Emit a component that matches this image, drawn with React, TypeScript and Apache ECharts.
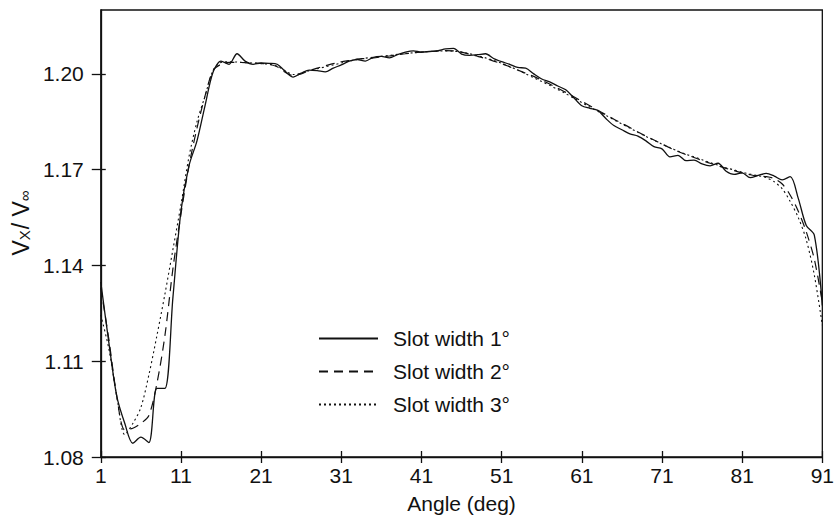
import React, { useEffect, useRef } from "react";
import * as echarts from "echarts";

const angles: number[] = Array.from({ length: 91 }, (_, i) => i + 1);

const slot1: number[] = [
  1.1348, 1.116, 1.099, 1.0905, 1.0843, 1.0862, 1.0845, 1.1015, 1.1015, 1.13,
  1.157, 1.1712, 1.179, 1.19, 1.2005, 1.204, 1.203, 1.2063, 1.204, 1.203,
  1.2034, 1.2033, 1.203, 1.2008, 1.199, 1.2002, 1.2012, 1.201, 1.2006, 1.2018,
  1.2028, 1.204, 1.2045, 1.204, 1.2052, 1.2055, 1.205, 1.206, 1.2068, 1.2072,
  1.2068, 1.207, 1.2072, 1.2078, 1.208, 1.2062, 1.2058, 1.206, 1.2063, 1.2048,
  1.2038, 1.203, 1.202, 1.2018, 1.2, 1.1984, 1.1975, 1.1962, 1.195, 1.1925,
  1.19, 1.1892, 1.1885, 1.186, 1.1838, 1.1825, 1.1812, 1.1805, 1.179, 1.1772,
  1.1765, 1.174, 1.1745, 1.1728, 1.173, 1.1718, 1.1712, 1.172, 1.1695, 1.1685,
  1.169, 1.1675, 1.1682, 1.1688, 1.168, 1.1668, 1.1678, 1.161, 1.1525, 1.1495,
  1.1275,
];

const slot2: number[] = [
  1.133, 1.117, 1.099, 1.0885, 1.089, 1.0905, 1.093, 1.103, 1.118, 1.139,
  1.156, 1.1712, 1.183, 1.193, 1.201, 1.203, 1.2036, 1.2036, 1.2035, 1.2034,
  1.2033, 1.203, 1.2022, 1.2005, 1.1995, 1.2, 1.201, 1.2018, 1.2025, 1.2032,
  1.2038, 1.2042, 1.2046, 1.2048, 1.205, 1.2053, 1.2056, 1.206, 1.2063, 1.2066,
  1.2068, 1.207, 1.2072, 1.2073, 1.2072, 1.2068, 1.2062, 1.2055, 1.2048, 1.204,
  1.2032, 1.2022, 1.2012, 1.2002, 1.1992, 1.198, 1.1968, 1.1955, 1.1942, 1.1928,
  1.1914, 1.19, 1.1886, 1.1872, 1.1858, 1.1845, 1.1832, 1.1818, 1.1805, 1.1793,
  1.178, 1.1768, 1.1757, 1.1747, 1.1738, 1.1729, 1.172, 1.1712, 1.1704, 1.1697,
  1.169, 1.1684, 1.168, 1.1678, 1.1672, 1.1655, 1.162, 1.157, 1.1505, 1.142,
  1.1285,
];

const slot3: number[] = [
  1.1245, 1.114, 1.099, 1.087, 1.0905, 1.0955, 1.1057, 1.118, 1.131, 1.145,
  1.159, 1.174, 1.185, 1.193, 1.201, 1.2036, 1.2038, 1.2037, 1.2035, 1.2034,
  1.2032, 1.203, 1.2024, 1.201, 1.1998, 1.2002, 1.201, 1.2016, 1.2022, 1.2028,
  1.2034, 1.204, 1.2045, 1.2049, 1.2052, 1.2055, 1.2058, 1.2061, 1.2064, 1.2066,
  1.2068, 1.207, 1.2071, 1.2072, 1.2071, 1.2068, 1.2063, 1.2057, 1.205, 1.2042,
  1.2033, 1.2023, 1.2012, 1.2, 1.1988, 1.1976, 1.1964, 1.1951, 1.1938, 1.1924,
  1.191, 1.1896, 1.1883, 1.187, 1.1856, 1.1843, 1.183, 1.1817, 1.1804, 1.1792,
  1.178, 1.1769, 1.1758, 1.1748, 1.174, 1.1731, 1.1722, 1.1714, 1.1706, 1.1699,
  1.1692, 1.1686, 1.1681, 1.1675, 1.1662, 1.164, 1.16, 1.155, 1.148, 1.137,
  1.1213,
];

const xTicks: number[] = [1, 11, 21, 31, 41, 51, 61, 71, 81, 91];
const yTicks: number[] = [1.08, 1.11, 1.14, 1.17, 1.2];
const seriesNames: string[] = ["Slot width 1°", "Slot width 2°", "Slot width 3°"];

const FONT = "'Liberation Sans', Arial, Helvetica, sans-serif";
const INK = "#111";

export default function App() {
  const ref = useRef<HTMLDivElement>(null);
  useEffect(() => {
    if (!ref.current) return;
    const chart = echarts.init(ref.current, undefined, { renderer: "svg" });
    const xBase = { type: "value", min: 1, max: 91 } as any;
    const yBase = { type: "value", min: 1.08, max: 1.22 } as any;
    const toPairs = (arr: number[]) => angles.map((a, i) => [a, arr[i]]);
    chart.setOption({
      animation: false,
      backgroundColor: "#fff",
      textStyle: { fontFamily: FONT, color: INK },
      grid: {
        left: 100,
        right: 9,
        top: 10,
        bottom: 60,
        show: true,
        borderColor: INK,
        borderWidth: 1.3,
      },
      legend: {
        orient: "vertical",
        left: 318,
        top: 328,
        padding: 0,
        itemWidth: 59,
        itemHeight: 14,
        itemGap: 12,
        data: seriesNames,
        itemStyle: { opacity: 0 },
        textStyle: { fontFamily: FONT, fontSize: 21, color: INK, padding: [0, 0, 0, 10] },
      },
      xAxis: [
        {
          ...xBase,
          position: "bottom",
          name: "Angle (deg)",
          nameLocation: "middle",
          nameGap: 36,
          nameTextStyle: { fontFamily: FONT, fontSize: 21, color: INK },
          axisLine: { show: true, lineStyle: { color: INK, width: 1.3 } },
          axisTick: { show: true, inside: false, length: 6, customValues: xTicks, lineStyle: { color: INK, width: 1.3 } },
          axisLabel: { customValues: xTicks, fontFamily: FONT, fontSize: 21, color: INK, margin: 8 },
          splitLine: { show: false },
        },
        {
          ...xBase,
          position: "bottom",
          axisLine: { show: false },
          axisTick: { show: true, inside: true, length: 6, customValues: xTicks, lineStyle: { color: INK, width: 1.3 } },
          axisLabel: { show: false },
          splitLine: { show: false },
        },
      ],
      yAxis: [
        {
          ...yBase,
          position: "left",
          name: "{a|V}{b|X}{a|/ V}{b|∞}",
          nameLocation: "middle",
          nameGap: 68,
          nameRotate: 90,
          nameTextStyle: {
            fontFamily: FONT,
            color: INK,
            padding: [0, 0, 0, 22],
            rich: {
              a: { fontFamily: FONT, fontSize: 23, color: INK, lineHeight: 28, verticalAlign: "bottom" },
              b: { fontFamily: FONT, fontSize: 15, color: INK, lineHeight: 28, verticalAlign: "bottom", padding: [9, 1, 0, 0] },
            },
          },
          axisLine: { show: true, lineStyle: { color: INK, width: 1.3 } },
          axisTick: { show: true, inside: false, length: 9, customValues: yTicks, lineStyle: { color: INK, width: 1.3 } },
          axisLabel: {
            customValues: yTicks,
            fontFamily: FONT,
            fontSize: 21,
            color: INK,
            margin: 17,
            formatter: (v: number) => v.toFixed(2),
          },
          splitLine: { show: false },
        },
        {
          ...yBase,
          position: "left",
          axisLine: { show: false },
          axisTick: { show: true, inside: true, length: 5, customValues: yTicks, lineStyle: { color: INK, width: 1.3 } },
          axisLabel: { show: false },
          splitLine: { show: false },
        },
      ],
      series: [
        {
          name: seriesNames[0],
          type: "line",
          data: toPairs(slot1),
          symbol: "none",
          smooth: 0.3,
          lineStyle: { color: INK, width: 1.3, type: "solid" },
          itemStyle: { color: INK },
        },
        {
          name: seriesNames[1],
          type: "line",
          data: toPairs(slot2),
          symbol: "none",
          smooth: 0.3,
          lineStyle: { color: INK, width: 1.2, type: [9, 6] },
          itemStyle: { color: INK },
        },
        {
          name: seriesNames[2],
          type: "line",
          data: toPairs(slot3),
          symbol: "none",
          smooth: 0.3,
          lineStyle: { color: INK, width: 1.1, type: [2, 3] },
          itemStyle: { color: INK },
        },
      ],
    });
    return () => chart.dispose();
  }, []);
  return (
    <div
      ref={ref}
      style={{ position: "fixed", left: 0, top: 0, width: 837, height: 519, background: "#fff" }}
    />
  );
}
